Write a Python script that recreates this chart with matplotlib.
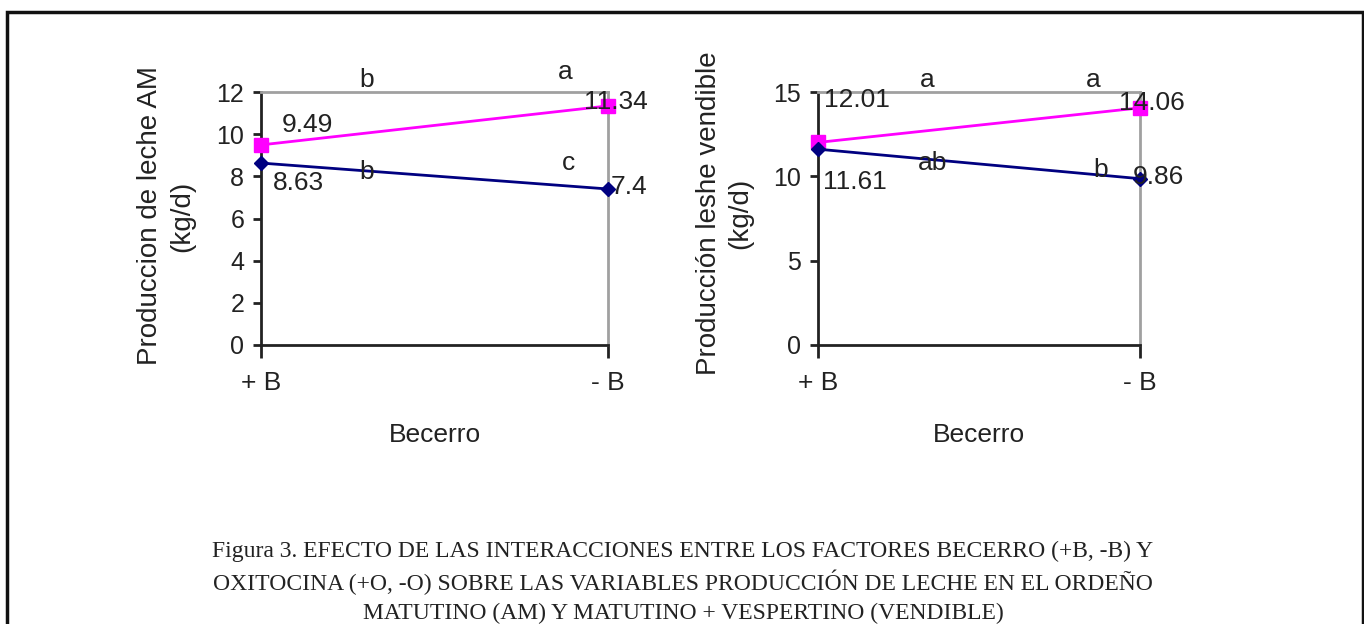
import matplotlib
matplotlib.use("Agg")
import matplotlib.pyplot as plt
from matplotlib.patches import Rectangle

# data
categories = ["+ B", "- B"]
am_pos_o = [9.49, 11.34]     # magenta, squares
am_neg_o = [8.63, 7.4]       # navy, diamonds
vend_pos_o = [12.01, 14.06]
vend_neg_o = [11.61, 9.86]
am_letters_top = ["b", "a"]
am_letters_bot = ["b", "c"]
vend_letters_top = ["a", "a"]
vend_letters_bot = ["ab", "b"]

SANS = ["Liberation Sans", "DejaVu Sans"]
SERIF = ["Liberation Serif", "DejaVu Serif"]
plt.rcParams["font.family"] = SANS

MAG = "#ff00ff"
NAVY = "#000080"
GRAY = "#a0a0a0"
TXT = "#222222"


def panel(ax, top, bot, ymax, ystep, ylabel, val_pos, let_top, let_bot, let_pos):
    x = list(range(len(categories)))
    ax.plot(x, top, color=MAG, lw=2, marker="s", ms=10, zorder=3, clip_on=False)
    ax.plot(x, bot, color=NAVY, lw=2, marker="D", ms=7, zorder=3, clip_on=False)
    ax.set_xlim(0, 1)
    ax.set_ylim(0, ymax)
    ax.set_yticks(range(0, ymax + 1, ystep))
    ax.set_xticks(x)
    ax.set_xticklabels(categories)
    for s in ["left", "bottom"]:
        ax.spines[s].set_color("#222222")
        ax.spines[s].set_linewidth(2)
    for s in ["top", "right"]:
        ax.spines[s].set_color(GRAY)
        ax.spines[s].set_linewidth(2)
    ax.tick_params(axis="y", direction="out", length=6, width=2, labelsize=18,
                   colors="#222222", labelcolor=TXT, pad=6)
    ax.tick_params(axis="x", direction="out", length=9, width=2, labelsize=19,
                   colors="#222222", labelcolor=TXT, pad=10)
    ax.set_xlabel("Becerro", fontsize=19, color=TXT, labelpad=20)
    ax.set_ylabel(ylabel, fontsize=20, color=TXT, linespacing=1.3)
    # value labels
    vals = [top[0], bot[0], top[1], bot[1]]
    for v, (px, py) in zip(vals, val_pos):
        ax.text(px, py, f"{v:g}", fontsize=19, color=TXT, ha="center", va="center",
                zorder=4, clip_on=False)
    # significance letters
    for lt, (px, py) in zip(let_top + let_bot, let_pos):
        ax.text(px, py, lt, fontsize=19, color=TXT, ha="center", va="center",
                zorder=4, clip_on=False)
    return ax


fig = plt.figure(figsize=(13.64, 6.24), dpi=100)

# outer frame
fig.patches.append(Rectangle((7 / 1364, -0.05), 1356 / 1364, 1 - 12 / 624 + 0.05,
                             transform=fig.transFigure, fill=False,
                             edgecolor="#111111", lw=2.5))

ax1 = fig.add_axes([261 / 1364, 1 - 345 / 624, 347 / 1364, 253 / 624])
panel(ax1, am_pos_o, am_neg_o, 12, 2, "Produccion de leche AM\n(kg/d)",
      [(0.135, 10.43), (0.107, 7.68), (1.023, 11.53), (1.06, 7.49)],
      am_letters_top, am_letters_bot,
      [(0.303, 12.57), (0.876, 12.95), (0.303, 8.20), (0.885, 8.63)])
ax1.yaxis.set_label_coords(-0.19, 0.51)

ax2 = fig.add_axes([818 / 1364, 1 - 345 / 624, 322 / 1364, 253 / 624])
panel(ax2, vend_pos_o, vend_neg_o, 15, 5, "Producción leshe vendible\n(kg/d)",
      [(0.121, 14.53), (0.115, 9.67), (1.037, 14.35), (1.056, 9.96)],
      vend_letters_top, vend_letters_bot,
      [(0.339, 15.71), (0.854, 15.71), (0.357, 10.79), (0.879, 10.38)])
ax2.yaxis.set_label_coords(-0.20, 0.52)

caption = ["Figura 3. EFECTO DE LAS INTERACCIONES ENTRE LOS FACTORES BECERRO (+B, -B) Y",
           "OXITOCINA (+O, -O) SOBRE LAS VARIABLES PRODUCCIÓN DE LECHE EN EL ORDEÑO",
           "MATUTINO (AM) Y MATUTINO + VESPERTINO (VENDIBLE)"]
for i, line in enumerate(caption):
    fig.text(683 / 1364, 1 - (551 + 31 * i) / 624, line, family=SERIF, fontsize=17,
             color=TXT, ha="center", va="center")

fig.savefig("out.png", dpi=100)
